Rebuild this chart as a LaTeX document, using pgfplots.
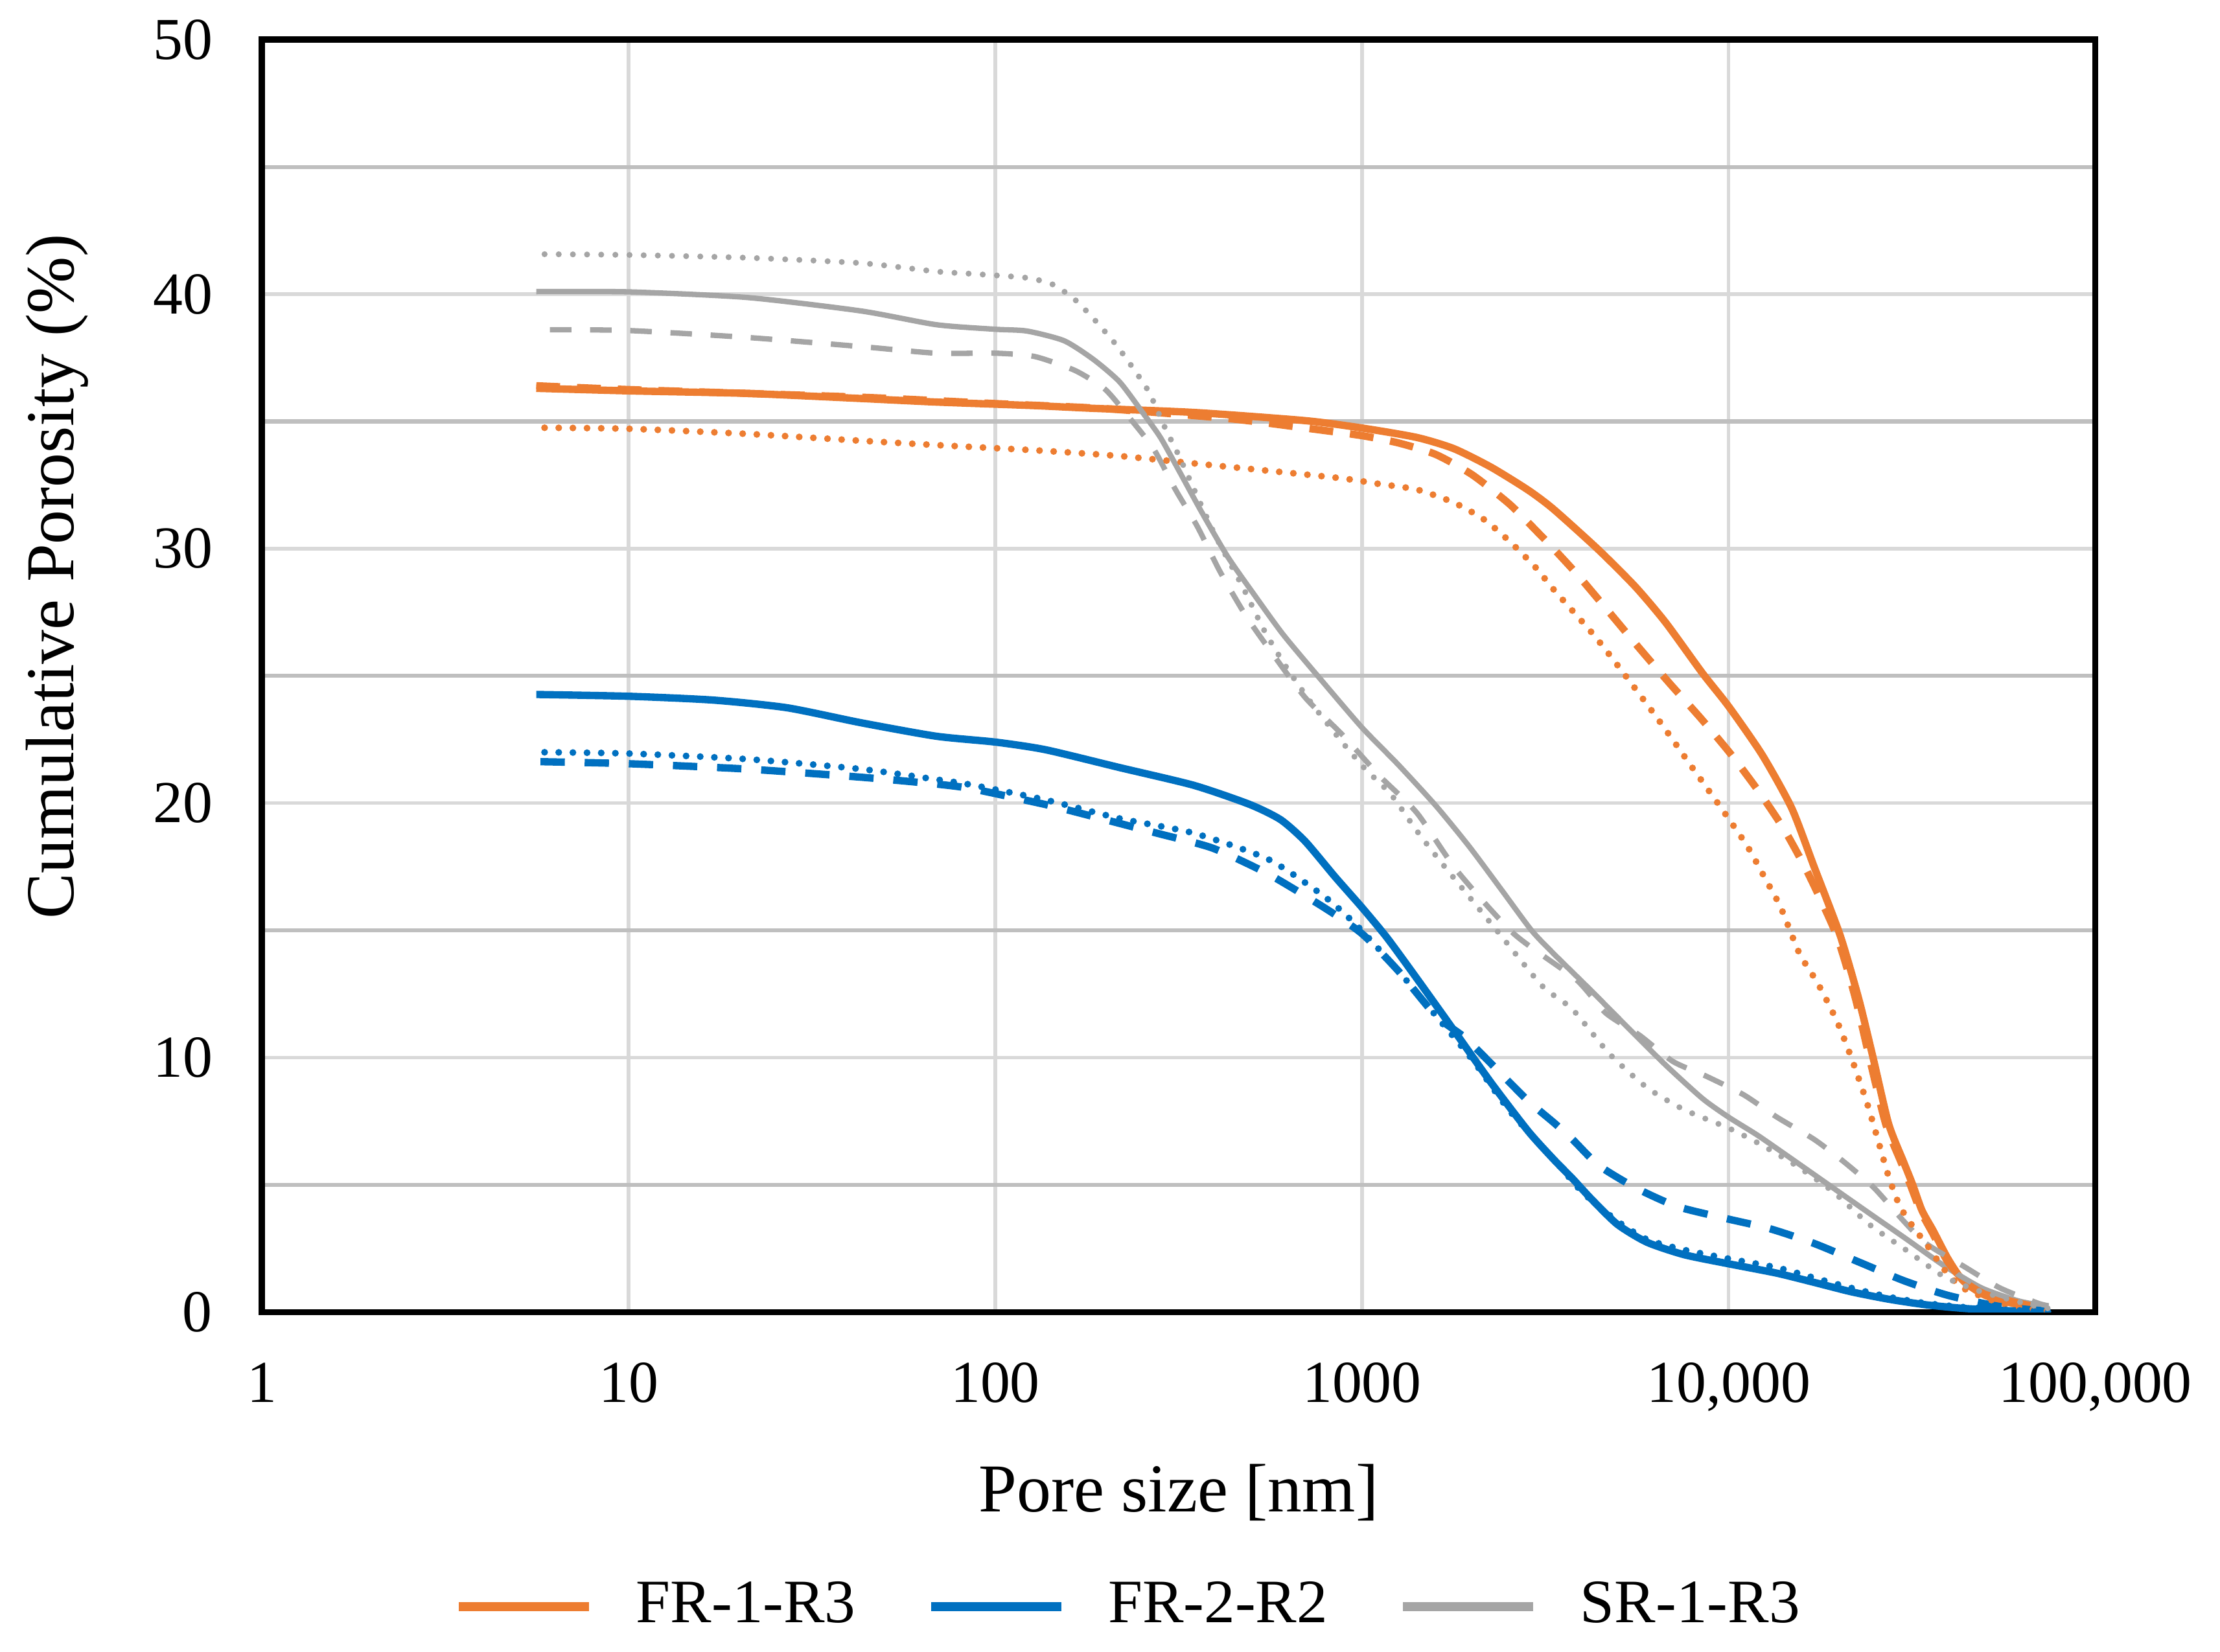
\documentclass[border=0pt]{standalone}
\usepackage{fontspec}
\setmainfont{Liberation Serif}
\usepackage{pgfplots}
\pgfplotsset{compat=1.18}
\definecolor{cOr}{HTML}{ED7D31}
\definecolor{cBl}{HTML}{0070C0}
\definecolor{cGr}{HTML}{A5A5A5}
\definecolor{gMaj}{HTML}{D9D9D9}
\definecolor{gMin}{HTML}{BFBFBF}
\begin{document}
\begin{tikzpicture}
\path[use as bounding box] (-46.25pt,-60pt) rectangle (345.75pt,231.75pt);
\begin{axis}[
 at={(0pt,0pt)}, anchor=south west,
 scale only axis, width=323.75pt, height=224.75pt,
 xmode=log, log basis x=10, xmin=1, xmax=100000, ymin=0, ymax=50,
 xtick={1,10,100,1000,10000,100000},
 xticklabels={1,10,100,1000,{10,000},{100,000}},
 ytick={0,10,20,30,40,50}, yticklabels={0,10,20,30,40,50},
 minor ytick={5,15,25,35,45},
 xmajorgrids, ymajorgrids, yminorgrids,
 major grid style={gMaj, line width=0.6pt},
 minor grid style={gMin, line width=0.7pt},
 major tick length=0pt, minor tick length=0pt,
 axis line style={black, line width=1.1pt},
 tick label style={font=\fontsize{10.5}{12}\selectfont},
 xticklabel style={yshift=-5.4pt},
 yticklabel style={xshift=-5.2pt},
 xlabel={Pore size [nm]}, ylabel={Cumulative Porosity (\%)},
 label style={font=\fontsize{12.1}{14}\selectfont},
 xlabel style={at={(axis description cs:0.5,-0.157)}, anchor=base},
 ylabel style={at={(axis description cs:-0.1027,0.578)}, anchor=base},
 legend style={at={(axis description cs:0.475,-0.2314)}, anchor=center, draw=none, fill=none,
   font=\fontsize{10.9}{13}\selectfont,
   /tikz/every odd column/.append style={column sep=5.5pt},
   /tikz/every even column/.append style={column sep=10.5pt}},
 legend columns=-1,
 legend image code/.code={\draw[#1, line width=1.6pt, solid] (0pt,0pt) -- (23pt,0pt);},
]
% solid series (legend)
\addplot[cOr, line width=1.3pt, smooth, tension=0.4] coordinates {
(5.6,36.3)(10,36.2)(21,36.1)(43,35.9)(69,35.76)(128,35.62)(180,35.52)(350,35.35)(700,35.03)(1000,34.74)(1410,34.37)(1780,33.93)(2250,33.2)(2840,32.3)(3330,31.55)(4420,29.95)(5570,28.5)(6730,27.1)(8490,25.1)(10000,23.8)(12340,21.9)(14860,19.8)(17100,17.5)(20140,14.8)(22640,12.3)(24760,10.0)(27300,7.4)(30000,5.9)(31770,5.0)(33650,4.0)(36130,3.2)(39630,2.1)(43540,1.24)(50100,0.66)(61800,0.29)(74500,0.07)};
\addlegendentry{FR-1-R3}
\addplot[cBl, line width=1.3pt, smooth, tension=0.4] coordinates {
(5.6,24.27)(10,24.2)(17,24.05)(27,23.75)(43,23.16)(69,22.63)(100,22.4)(137,22.1)(218,21.4)(348,20.7)(494,19.95)(600,19.35)(700,18.5)(845,17.1)(1000,15.9)(1172,14.7)(1413,13.1)(1782,11.07)(2254,9.0)(2844,7.1)(3334,6.0)(3750,5.25)(4220,4.45)(4970,3.45)(5980,2.75)(7550,2.26)(10000,1.9)(13550,1.53)(17100,1.17)(21600,0.8)(27300,0.51)(34500,0.29)(43500,0.15)(55000,0.07)(74500,0.0)};
\addlegendentry{FR-2-R2}
\addplot[cGr, line width=0.95pt, smooth, tension=0.4] coordinates {
(5.6,40.1)(10,40.09)(21,39.87)(43,39.34)(69,38.8)(100,38.62)(122,38.55)(154,38.17)(185,37.44)(218,36.56)(251,35.39)(282,34.37)(317,33.06)(365,31.45)(430,29.69)(506,28.23)(610,26.62)(771,24.87)(1000,22.97)(1256,21.51)(1590,19.9)(1960,18.3)(2400,16.6)(2900,15.0)(3330,14.09)(4220,12.63)(5320,11.17)(6730,9.71)(8490,8.39)(10000,7.66)(12050,6.93)(15240,5.91)(19230,4.89)(24270,3.87)(30690,2.85)(38730,1.82)(48980,0.95)(61800,0.44)(74500,0.22)};
\addlegendentry{SR-1-R3}
% dashed series
\addplot[forget plot, cOr, line width=1.3pt, dash pattern=on 4.2pt off 3pt, smooth, tension=0.4] coordinates {
(5.6,36.4)(10,36.25)(43,35.95)(100,35.7)(200,35.5)(440,35.1)(700,34.74)(1000,34.44)(1260,34.15)(1590,33.7)(2000,32.9)(2530,31.74)(3050,30.57)(3330,30.0)(3880,28.96)(4680,27.57)(5690,26.11)(6890,24.72)(8400,23.33)(10120,21.94)(12050,20.48)(14190,18.95)(16520,17.2)(19700,14.8)(22100,12.4)(24200,10.0)(26800,7.4)(29500,5.9)(31300,5.0)(33300,4.0)(36000,3.1)(39500,2.0)(44000,1.2)(50000,0.7)(62000,0.35)(74500,0.1)};
\addplot[forget plot, cBl, line width=1.3pt, dash pattern=on 4.3pt off 3.5pt, smooth, tension=0.4] coordinates {
(5.75,21.63)(10,21.55)(21,21.34)(43,21.02)(69,20.75)(86,20.57)(128,20.04)(154,19.77)(276,18.82)(392,18.23)(556,17.21)(790,15.89)(1000,14.87)(1256,13.41)(1590,11.65)(1914,10.77)(2360,9.46)(2844,8.29)(3334,7.45)(3750,6.79)(4420,5.77)(5570,4.89)(7210,4.16)(9550,3.72)(12940,3.28)(17100,2.7)(22650,1.97)(30000,1.24)(39630,0.66)(55000,0.22)(74500,0.04)};
\addplot[forget plot, cGr, line width=0.95pt, dash pattern=on 3.8pt off 3.3pt, smooth, tension=0.4] coordinates {
(6.1,38.6)(10,38.57)(21,38.3)(43,37.94)(69,37.68)(100,37.68)(128,37.55)(165,37.0)(199,36.27)(229,35.25)(270,33.93)(310,32.32)(356,30.86)(410,29.1)(483,27.35)(569,25.89)(701,24.14)(885,22.68)(1117,21.07)(1413,19.61)(1815,17.35)(2594,14.87)(3837,13.07)(4624,11.75)(5715,10.88)(7047,9.85)(8690,9.27)(10990,8.54)(13550,7.66)(17100,6.79)(20610,5.91)(24890,4.89)(30000,3.58)(34510,2.7)(43550,1.82)(54950,0.95)(69500,0.36)(74500,0.25)};
% dotted series
\addplot[forget plot, cOr, line width=1.2pt, line cap=round, dash pattern=on 0pt off 2.5pt, smooth, tension=0.4] coordinates {
(5.9,34.75)(10,34.71)(21,34.51)(43,34.24)(69,34.07)(130,33.86)(218,33.64)(348,33.35)(556,33.06)(885,32.76)(1117,32.54)(1413,32.32)(1780,31.81)(2150,31.15)(2530,30.28)(2980,29.25)(3330,28.4)(4320,26.55)(5320,24.87)(6560,23.11)(7930,21.43)(9550,19.8)(11250,18.3)(12620,17.0)(13870,15.9)(15600,14.09)(17500,12.92)(19700,11.46)(21600,10.0)(23800,8.25)(25500,6.79)(27300,5.33)(29300,4.16)(32100,3.28)(34500,2.7)(38700,1.68)(43500,0.95)(55000,0.36)(69500,0.1)(74500,0.05)};
\addplot[forget plot, cBl, line width=1.2pt, line cap=round, dash pattern=on 0pt off 2.5pt, smooth, tension=0.4] coordinates {
(5.9,22.0)(10,21.95)(21,21.73)(43,21.34)(69,20.93)(86,20.72)(137,20.13)(218,19.4)(348,18.82)(556,17.79)(790,16.33)(973,15.16)(1256,13.41)(1590,11.65)(2005,9.9)(2530,7.9)(3334,6.0)(4000,4.7)(5000,3.55)(6000,2.85)(7550,2.45)(10000,2.1)(13550,1.75)(17100,1.35)(21600,0.95)(27300,0.6)(34500,0.35)(43500,0.2)(55000,0.1)(74500,0.02)};
\addplot[forget plot, cGr, line width=1.05pt, line cap=round, dash pattern=on 0pt off 2.5pt, smooth, tension=0.4] coordinates {
(5.9,41.57)(10,41.54)(21,41.43)(43,41.22)(69,40.89)(86,40.8)(122,40.64)(144,40.37)(165,39.78)(185,39.05)(213,38.03)(240,37.0)(263,36.13)(289,34.81)(317,33.64)(356,32.03)(401,30.42)(472,28.52)(542,26.77)(624,25.31)(735,23.85)(885,22.38)(1018,21.36)(1200,20.34)(1413,18.9)(1660,17.6)(2370,14.87)(3100,12.82)(3750,11.9)(4730,10.15)(5980,8.83)(7550,7.96)(10000,7.23)(12050,6.64)(15240,5.77)(19230,4.74)(24270,3.43)(30690,2.41)(38730,1.39)(48980,0.8)(69500,0.22)(74500,0.15)};
\end{axis}
\end{tikzpicture}
\end{document}
